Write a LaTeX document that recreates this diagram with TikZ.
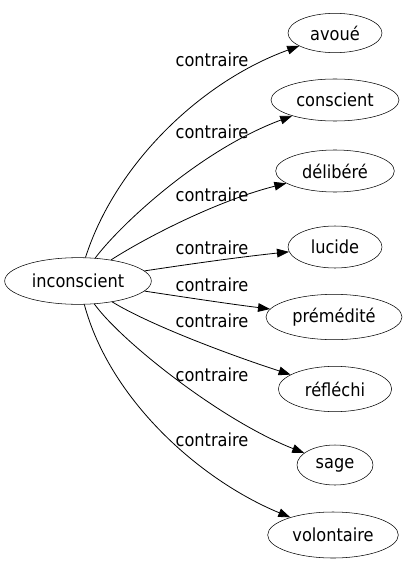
\documentclass[tikz,border=0pt]{standalone}
\usepackage{fontspec}
\setmainfont{DejaVu Sans Condensed}
\usetikzlibrary{shapes.geometric,arrows.meta}

\begin{document}
\begin{tikzpicture}[x=0.75pt,y=0.75pt,yscale=-1,xscale=1,
  word/.style={draw,ellipse,inner sep=0pt,minimum height=31.5pt,font=\fontsize{13.5}{16}\selectfont},
  rel/.style={font=\fontsize{13.5}{16}\selectfont,inner sep=0.75pt},
  link/.style={-{Triangle[length=9pt,width=6.5pt]},line width=0.6pt}]
\useasboundingbox (0,0) rectangle (409,563);

%Shape: Ellipse [id:inconscient]
\node [word,minimum width=110pt,minimum height=35pt] (inconscient) at (78,281) {inconscient};
%Shape: Ellipse [id:avoue]
\node [word,minimum width=70.5pt,minimum height=29.5pt] (avoue) at (335,33) {avoué};
%Shape: Ellipse [id:conscient]
\node [word,minimum width=96pt] (conscient) at (335,100) {conscient};
%Shape: Ellipse [id:delibere]
\node [word,minimum width=89pt] (delibere) at (335,171) {délibéré};
%Shape: Ellipse [id:lucide]
\node [word,minimum width=70.5pt] (lucide) at (335,247) {lucide};
%Shape: Ellipse [id:premedite]
\node [word,minimum width=102pt,minimum height=34pt] (premedite) at (334,317) {prémédité};
%Shape: Ellipse [id:reflechi]
\node [word,minimum width=85pt,minimum height=34pt] (reflechi) at (335,389) {réfléchi};
%Shape: Ellipse [id:sage]
\node [word,minimum width=57pt,minimum height=30pt] (sage) at (335,465) {sage};
%Shape: Ellipse [id:volontaire]
\node [word,minimum width=98pt,minimum height=34.5pt] (volontaire) at (333,535) {volontaire};

%Curve: inconscient -> ...
\draw [link] (inconscient) .. controls (115,165) and (200,82) .. (avoue);
\draw [link] (inconscient) .. controls (120,225) and (200,150) .. (conscient);
\draw [link] (inconscient) .. controls (150,235) and (220,200) .. (delibere);
\draw [link] (inconscient) .. controls (190,264) and (240,257) .. (lucide);
\draw [link] (inconscient) .. controls (190,298) and (230,304) .. (premedite);
\draw [link] (inconscient) .. controls (150,325) and (230,355) .. (reflechi);
\draw [link] (inconscient) .. controls (120,340) and (220,420) .. (sage);
\draw [link] (inconscient) .. controls (110,400) and (200,480) .. (volontaire);

% Text Node
\node [rel] (r1) at (212,60) {contraire};
% Text Node
\node [rel] (r2) at (212,132) {contraire};
% Text Node
\node [rel] (r3) at (212,195) {contraire};
% Text Node
\node [rel] (r4) at (212,248) {contraire};
% Text Node
\node [rel] (r5) at (212,285) {contraire};
% Text Node
\node [rel] (r6) at (212,321) {contraire};
% Text Node
\node [rel] (r7) at (212,375) {contraire};
% Text Node
\node [rel] (r8) at (212,440) {contraire};

\end{tikzpicture}
\end{document}
